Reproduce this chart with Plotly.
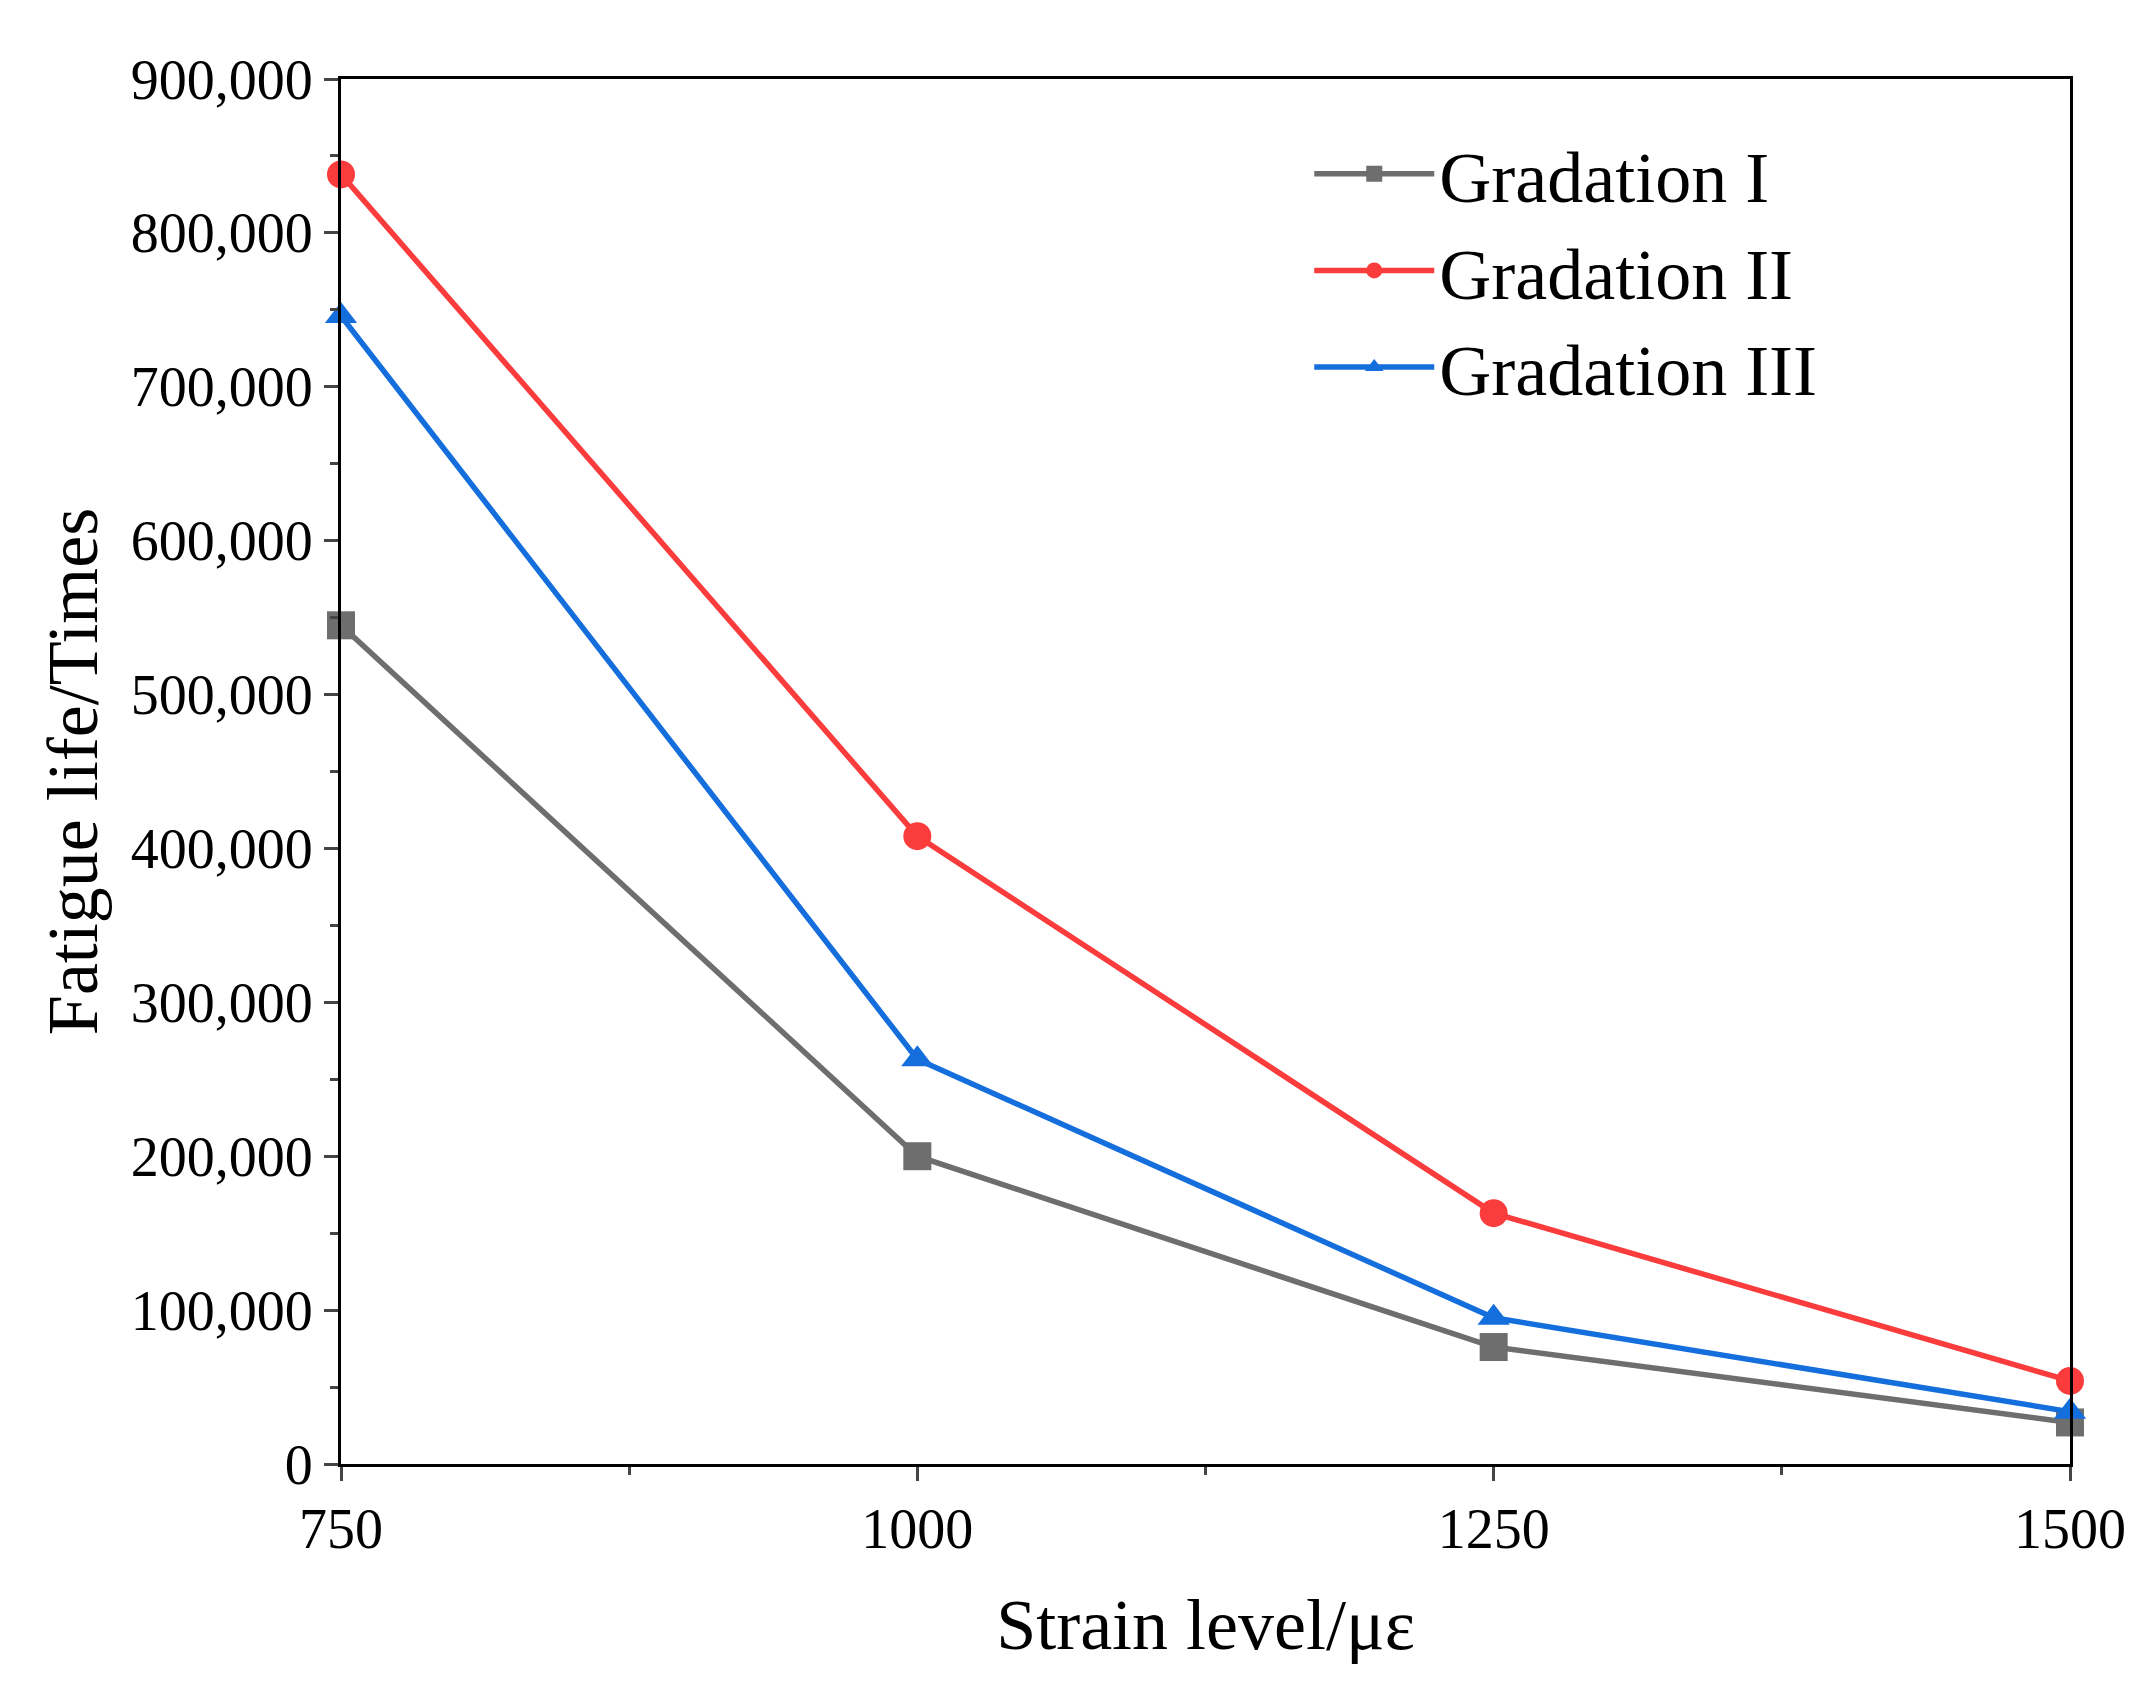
import plotly.graph_objects as go

strain = [750, 1000, 1250, 1500]
grad_1 = [545000, 200000, 76000, 27000]
grad_2 = [838000, 408000, 163000, 54000]
grad_3 = [746000, 263000, 95000, 34000]

series = [
    ("Gradation I", grad_1, "rgb(110,110,110)", "square"),
    ("Gradation II", grad_2, "rgb(250,60,60)", "circle"),
    ("Gradation III", grad_3, "rgb(20,110,220)", "triangle-up"),
]

fig = go.Figure()
for name, vals, color, sym in series:
    fig.add_trace(go.Scatter(
        x=strain, y=vals, name=name, mode="lines+markers",
        line=dict(color=color, width=5.5),
        marker=dict(symbol=sym, size=28, color=color),
        cliponaxis=False,
    ))

font = "Liberation Serif, Times New Roman, serif"
fig.update_layout(
    width=2141, height=1694,
    paper_bgcolor="white", plot_bgcolor="white",
    margin=dict(l=333, r=79, t=71, b=238),
    font=dict(family=font, size=56, color="black"),
    legend=dict(x=0.56, y=0.97, xanchor="left", yanchor="top",
                font=dict(size=72), bgcolor="rgba(0,0,0,0)",
                itemwidth=120, tracegroupgap=0),
    showlegend=True,
)
fig.update_xaxes(
    range=[750, 1500], tickvals=strain, ticks="outside", ticklen=14, tickwidth=3,
    minor=dict(dtick=125, tick0=750, ticks="outside", ticklen=8, tickwidth=3),
    showline=True, linecolor="black", linewidth=3, mirror=True, showgrid=False,
    zeroline=False,
    title=dict(text="Strain level/με", font=dict(size=72), standoff=40),
)
fig.update_yaxes(
    range=[0, 900000], dtick=100000, tickformat=",", ticks="outside", ticklen=14,
    tickwidth=3,
    minor=dict(dtick=50000, ticks="outside", ticklen=8, tickwidth=3),
    showline=True, linecolor="black", linewidth=3, mirror=True, showgrid=False,
    zeroline=False,
    title=dict(text="Fatigue life/Times", font=dict(size=72), standoff=10),
)
fig.write_html("out.html")
